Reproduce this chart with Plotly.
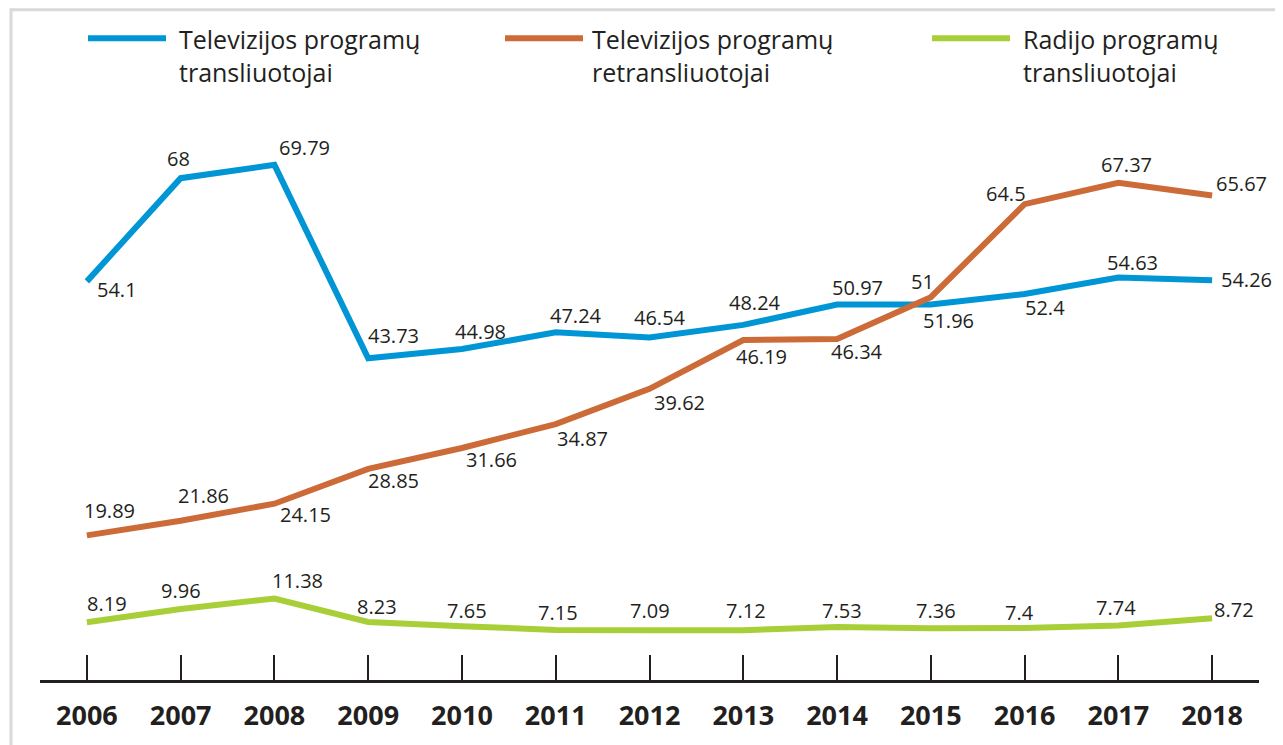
import plotly.graph_objects as go

years = [2006, 2007, 2008, 2009, 2010, 2011, 2012, 2013, 2014, 2015, 2016, 2017, 2018]
tv_transliuotojai = [54.1, 68, 69.79, 43.73, 44.98, 47.24, 46.54, 48.24, 50.97, 51, 52.4, 54.63, 54.26]
tv_retransliuotojai = [19.89, 21.86, 24.15, 28.85, 31.66, 34.87, 39.62, 46.19, 46.34, 51.96, 64.5, 67.37, 65.67]
radijo_transliuotojai = [8.19, 9.96, 11.38, 8.23, 7.65, 7.15, 7.09, 7.12, 7.53, 7.36, 7.4, 7.74, 8.72]
tick_labels = [str(y) for y in years]
series_names = ["Televizijos programų<br>transliuotojai",
                "Televizijos programų<br>retransliuotojai",
                "Radijo programų<br>transliuotojai"]

colors = ["#0096d6", "#cc6b37", "#a8cf38"]
TXT = "#231f20"
FONT = "Open Sans"

# label offsets in pixels (dx right, dy down) relative to each point
off_blue = [(30, 8), (-2, -20), (30, -17), (25, -23), (19, -18), (20, -17), (10, -20),
            (12, -22), (20, -17), (-8, -23), (20, 14), (14, -15), (34, -1)]
off_orange = [(23, -25), (23, -25), (31, 11), (25, 12), (30, 12), (27, 14), (30, 14),
              (18, 16), (20, 13), (18, 23), (-19, -11), (8, -18), (29, -12)]
off_green = [(20, -19), (0, -19), (23, -18), (9, -15), (5, -16), (2, -17), (0, -20),
             (3, -20), (5, -17), (5, -18), (-5, -16), (-2, -18), (22, -9)]

# page is offset by the default 8px body margin
OFF = 8
W, H = 1283 - OFF, 745 - OFF
PLOT_L, PLOT_R, PLOT_T, PLOT_B = 40, 1259, 102, 685   # in page pixels
AXIS_Y = 683
ML = PLOT_L - OFF
MR = W - (PLOT_R - OFF)
MT = PLOT_T - OFF
MB = H - (PLOT_B - OFF)
PW = PLOT_R - PLOT_L
PH = PLOT_B - PLOT_T
YMAX = 78.26


def px2x(px):
    return (px - PLOT_L) / PW


def py2y(py):
    return (PLOT_B - py) / PH


fig = go.Figure()
all_series = [tv_transliuotojai, tv_retransliuotojai, radijo_transliuotojai]
all_offs = [off_blue, off_orange, off_green]
for vals, col, name in zip(all_series, colors, series_names):
    fig.add_trace(go.Scatter(x=years, y=vals, mode="lines", name=name,
                             line=dict(color=col, width=6), cliponaxis=False,
                             showlegend=False, hoverinfo="skip"))

annotations = []
for vals, offs in zip(all_series, all_offs):
    for x, v, (dx, dy) in zip(years, vals, offs):
        annotations.append(dict(x=x, y=v, xref="x", yref="y", text=f"{v:g}",
                                showarrow=False, xanchor="center", yanchor="middle",
                                xshift=dx, yshift=-dy,
                                font=dict(family=FONT, size=20, color=TXT)))

# custom legend
legend_pos = [(88, 166, 177), (505, 583, 590), (932, 1010, 1021)]
shapes = []
for (x0, x1, tx), col, name in zip(legend_pos, colors, series_names):
    shapes.append(dict(type="line", xref="paper", yref="paper",
                       x0=px2x(x0), x1=px2x(x1), y0=py2y(38), y1=py2y(38),
                       line=dict(color=col, width=6)))
    annotations.append(dict(x=px2x(tx), y=py2y(55), xref="paper", yref="paper",
                            text=name, showarrow=False, xanchor="left", yanchor="middle",
                            align="left", font=dict(family=FONT, size=25, color=TXT)))

# frame (top and left light grey border)
shapes.append(dict(type="line", xref="paper", yref="paper",
                   x0=px2x(11), x1=px2x(1300), y0=py2y(9.5), y1=py2y(9.5),
                   line=dict(color="#d9d9d9", width=3)))
shapes.append(dict(type="line", xref="paper", yref="paper",
                   x0=px2x(11), x1=px2x(11), y0=py2y(8), y1=py2y(760),
                   line=dict(color="#d9d9d9", width=3)))

fig.update_layout(
    width=W, height=H,
    margin=dict(l=ML, r=MR, t=MT, b=MB, pad=0),
    paper_bgcolor="white", plot_bgcolor="white",
    showlegend=False,
    annotations=annotations,
    shapes=shapes,
    xaxis=dict(range=[2005.5, 2018.5], tickvals=years, ticktext=tick_labels,
               anchor="free", position=py2y(AXIS_Y),
               ticks="inside", ticklen=25, tickwidth=2, tickcolor=TXT,
               showline=True, linewidth=3, linecolor=TXT, showgrid=False,
               zeroline=False, ticklabelstandoff=10,
               tickfont=dict(family=FONT, size=27, color=TXT, weight="bold")),
    yaxis=dict(range=[0, YMAX], visible=False, showgrid=False, zeroline=False),
)

fig.write_html("out.html")
